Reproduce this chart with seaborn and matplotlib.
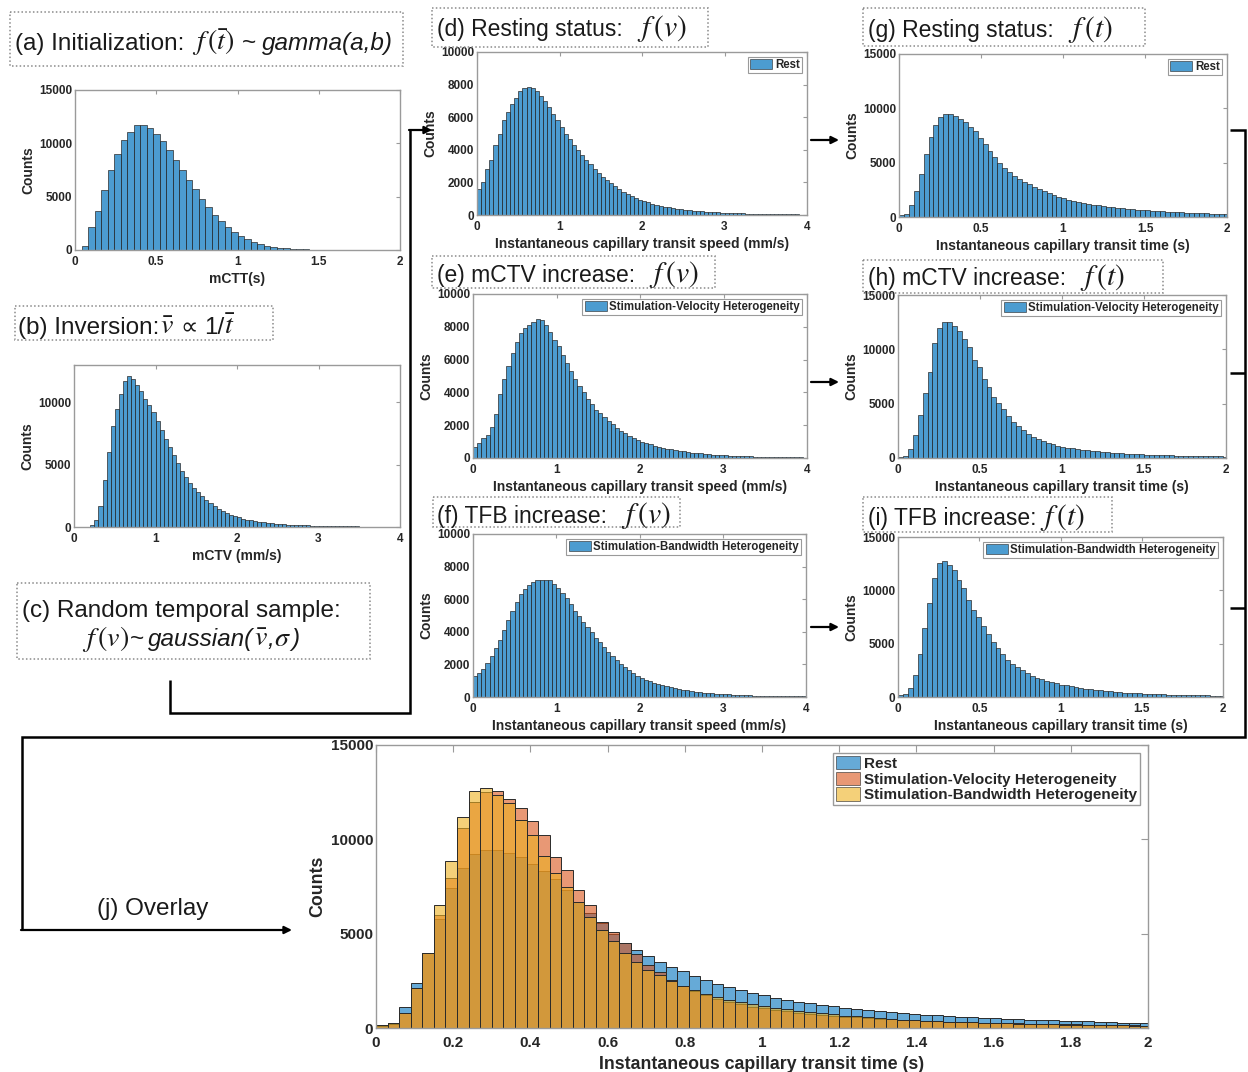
import numpy as np
import pandas as pd
import matplotlib
matplotlib.use("Agg")
import matplotlib.pyplot as plt
import seaborn as sns
from matplotlib.patches import Rectangle, Patch

# ---------------- data (bin counts) ----------------
mctt_width = 0.04
mctt_counts = [30, 350, 2200, 3700, 5600, 7500, 9000, 10300, 11100, 11700,
               11700, 11400, 10900, 10200, 9400, 8400, 7500, 6600, 5700, 4800,
               4000, 3300, 2700, 2200, 1700, 1300, 1000, 750, 560, 410,
               300, 210, 150, 105, 75, 50, 35, 25, 18, 12,
               9, 6, 4, 3, 2, 2, 1, 1, 1, 0]

mctv_width = 0.05
mctv_counts = [5, 10, 20, 40, 150, 600, 1700, 3800, 6000, 8100,
               9500, 10700, 11700, 12150, 11900, 11400, 10900, 10300, 9800, 9200,
               8500, 7800, 7100, 6400, 5800, 5100, 4500, 4000, 3550, 3150,
               2800, 2450, 2150, 1900, 1650, 1450, 1270, 1120, 990, 870,
               770, 680, 600, 530, 470, 420, 375, 335, 300, 270,
               245, 220, 200, 180, 165, 150, 137, 125, 114, 104,
               95, 87, 80, 73, 67, 61, 56, 51, 47, 43,
               39, 36, 33, 30, 27, 25, 23, 21, 19, 17]

speed_width = 0.05
speed_rest = [1600, 2000, 2800, 3400, 4300, 5000, 5800, 6300, 6800, 7200,
              7600, 7800, 7850, 7800, 7600, 7300, 7000, 6600, 6200, 5800,
              5400, 5000, 4650, 4300, 4000, 3700, 3400, 3100, 2850, 2600,
              2350, 2150, 1950, 1750, 1580, 1420, 1280, 1150, 1030, 920,
              850, 770, 700, 635, 575, 520, 470, 430, 390, 355,
              325, 295, 270, 245, 225, 205, 188, 172, 158, 145,
              133, 122, 112, 103, 95, 87, 80, 74, 68, 62,
              57, 52, 48, 44, 40, 37, 34, 31, 28, 26]
speed_velocity = [700, 900, 1200, 1400, 1900, 2700, 3900, 4800, 5600, 6400,
                  7100, 7600, 7900, 8100, 8300, 8450, 8400, 8100, 7700, 7200,
                  6800, 6300, 5800, 5300, 4800, 4400, 4000, 3600, 3300, 2950,
                  2750, 2500, 2250, 2050, 1850, 1650, 1500, 1350, 1220, 1100,
                  1000, 910, 830, 755, 690, 630, 575, 525, 480, 440,
                  400, 365, 335, 305, 280, 255, 233, 213, 195, 178,
                  163, 149, 136, 124, 113, 103, 94, 86, 79, 72,
                  66, 60, 55, 50, 46, 42, 38, 35, 32, 29]
speed_bandwidth = [1300, 1450, 1700, 2100, 2500, 3000, 3500, 4100, 4700, 5300,
                   5800, 6300, 6600, 6850, 7050, 7150, 7200, 7200, 7150, 6950,
                   6700, 6400, 6050, 5700, 5300, 4950, 4600, 4300, 4000, 3650,
                   3350, 3050, 2750, 2500, 2250, 2050, 1850, 1650, 1470, 1310,
                   1170, 1060, 960, 870, 790, 715, 650, 590, 535, 485,
                   440, 400, 365, 332, 302, 275, 250, 228, 208, 190,
                   173, 158, 144, 131, 120, 109, 100, 91, 83, 76,
                   69, 63, 58, 53, 48, 44, 40, 37, 34, 31]

time_width = 0.03
time_rest = [150, 250, 1100, 2400, 4000, 5800, 7400, 8500, 9200, 9450,
             9450, 9300, 9050, 8700, 8300, 7900, 7300, 6700, 6100, 5550,
             5000, 4500, 4150, 3800, 3500, 3250, 3000, 2750, 2550, 2350,
             2180, 2020, 1870, 1730, 1600, 1500, 1400, 1310, 1230, 1150,
             1080, 1010, 950, 890, 840, 790, 745, 700, 665, 630,
             600, 570, 545, 520, 495, 470, 450, 430, 410, 390,
             370, 350, 330, 310, 290, 270, 250]
time_velocity = [120, 220, 800, 2100, 4000, 6000, 7950, 10600, 12000, 12530,
                 12560, 12140, 11650, 10980, 10230, 9050, 8350, 7300, 6500, 5600,
                 5100, 4500, 3900, 3350, 2950, 2550, 2250, 1950, 1750, 1550,
                 1400, 1250, 1120, 1050, 960, 880, 810, 750, 695, 645,
                 600, 560, 520, 485, 455, 425, 400, 375, 355, 335,
                 315, 300, 285, 270, 255, 242, 230, 218, 207, 196,
                 186, 176, 166, 157, 148, 140, 132]
time_bandwidth = [150, 250, 800, 2100, 4000, 6500, 8850, 11200, 12560, 12740,
                  12350, 11900, 11000, 10230, 9100, 8200, 7500, 6700, 5900, 5200,
                  4600, 4000, 3500, 3100, 2800, 2500, 2250, 2000, 1800, 1650,
                  1500, 1380, 1270, 1170, 1080, 990, 910, 840, 780, 720,
                  660, 610, 565, 525, 485, 450, 420, 390, 365, 340,
                  318, 298, 280, 262, 246, 231, 217, 204, 192, 181,
                  170, 160, 150, 141, 133, 125, 118]

series_labels = ["Rest", "Stimulation-Velocity Heterogeneity",
                 "Stimulation-Bandwidth Heterogeneity"]
xlabel_speed = "Instantaneous capillary transit speed (mm/s)"
xlabel_time = "Instantaneous capillary transit time (s)"

# ---------------- style ----------------
sns.set_style("white")
plt.rcParams["font.family"] = ["Liberation Sans", "DejaVu Sans"]
plt.rcParams["mathtext.fontset"] = "stix"

BLUE = (0.0, 0.447, 0.741)
RED = (0.85, 0.325, 0.098)
YEL = (0.929, 0.694, 0.125)
EDGE = "#2a2a2a"
SPINE = "#9a9a9a"

W, H = 1248, 1072
fig = plt.figure(figsize=(W / 100, H / 100), dpi=100)
fig.patch.set_facecolor("white")


def add_ax(l, t, r, b):
    return fig.add_axes([l / W, 1 - b / H, (r - l) / W, (b - t) / H])


def draw_hist(ax, width, counts, color, alpha, lw=0.5):
    counts = np.asarray(counts, dtype=float)
    edges = width * np.arange(len(counts) + 1)
    df = pd.DataFrame({"x": (edges[:-1] + edges[1:]) / 2, "w": counts})
    sns.histplot(data=df, x="x", weights="w", bins=list(edges), ax=ax,
                 color=color, alpha=alpha, edgecolor=EDGE, linewidth=lw,
                 stat="count")


def fmt(v):
    return f"{round(v, 2):g}"


def style(ax, xmax, xstep, ymax, ystep, xlabel, fs_tick=8.5, fs_lab=10,
          tlen=3, pad=4, lpad=3):
    xt = np.arange(0, xmax + 1e-9, xstep)
    yt = np.arange(0, ymax + 1e-9, ystep)
    ax.set_xlim(0, xmax)
    ax.set_ylim(0, ymax)
    ax.set_xticks(xt)
    ax.set_yticks(yt)
    ax.set_xticklabels([fmt(v) for v in xt], fontweight="bold", fontsize=fs_tick)
    ax.set_yticklabels([fmt(v) for v in yt], fontweight="bold", fontsize=fs_tick)
    ax.tick_params(direction="in", length=tlen, width=0.8, top=True, right=True,
                   color=SPINE)
    ax.tick_params(axis="x", pad=pad)
    ax.tick_params(axis="y", pad=2)
    for s in ax.spines.values():
        s.set_visible(True)
        s.set_color(SPINE)
        s.set_linewidth(1.0)
    ax.set_xlabel(xlabel, fontweight="bold", fontsize=fs_lab, labelpad=lpad)
    ax.set_ylabel("Counts", fontweight="bold", fontsize=fs_lab, labelpad=3)
    ax.grid(False)


def small_legend(ax, label, fs=8.3):
    h = [Patch(facecolor=BLUE, alpha=0.7, edgecolor=EDGE, linewidth=0.6)]
    leg = ax.legend(h, [label], loc="upper right",
                    prop={"weight": "bold", "size": fs},
                    handlelength=1.9, handleheight=1.0, handletextpad=0.25,
                    borderpad=0.2, borderaxespad=0.4, fancybox=False,
                    framealpha=1)
    leg.get_frame().set_edgecolor(SPINE)
    leg.get_frame().set_linewidth(0.8)


# (a)
ax_a = add_ax(75, 90, 400, 250)
draw_hist(ax_a, mctt_width, mctt_counts, BLUE, 0.7)
style(ax_a, 2, 0.5, 15000, 5000, "mCTT(s)")

# (b)
ax_b = add_ax(74, 365, 400, 527)
draw_hist(ax_b, mctv_width, mctv_counts, BLUE, 0.7)
style(ax_b, 4, 1, 13000, 5000, "mCTV (mm/s)")
ax_b.set_yticks([0, 5000, 10000])
ax_b.set_yticklabels(["0", "5000", "10000"], fontweight="bold", fontsize=8.5)

# speed panels
for rect, data, lab in [((477, 52, 807, 215), speed_rest, series_labels[0]),
                        ((473, 294, 807, 458), speed_velocity, series_labels[1]),
                        ((473, 534, 806, 697), speed_bandwidth, series_labels[2])]:
    ax = add_ax(*rect)
    draw_hist(ax, speed_width, data, BLUE, 0.7)
    style(ax, 4, 1, 10000, 2000, xlabel_speed)
    small_legend(ax, lab)

# time panels
for rect, data, lab in [((899, 54, 1227, 217), time_rest, series_labels[0]),
                        ((898, 295, 1226, 458), time_velocity, series_labels[1]),
                        ((898, 537, 1223, 697), time_bandwidth, series_labels[2])]:
    ax = add_ax(*rect)
    draw_hist(ax, time_width, data, BLUE, 0.7)
    style(ax, 2, 0.5, 15000, 5000, xlabel_time)
    small_legend(ax, lab)

# (j) overlay
ax_j = add_ax(376, 745, 1148, 1028)
for data, col in [(time_rest, BLUE), (time_velocity, RED), (time_bandwidth, YEL)]:
    draw_hist(ax_j, time_width, data, col, 0.6, lw=0.7)
style(ax_j, 2, 0.2, 15000, 5000, xlabel_time, fs_tick=11, fs_lab=12.8,
      tlen=5, pad=6, lpad=4)
handles = [Patch(facecolor=c, alpha=0.6, edgecolor=EDGE, linewidth=0.7)
           for c in (BLUE, RED, YEL)]
leg = ax_j.legend(handles, series_labels, loc="upper right",
                  prop={"weight": "bold", "size": 11},
                  handlelength=1.6, handleheight=1.0, handletextpad=0.25,
                  borderpad=0.2, labelspacing=0.05, borderaxespad=0.5,
                  fancybox=False, framealpha=1)
leg.get_frame().set_edgecolor(SPINE)

# ---------------- annotation layer ----------------
ov = fig.add_axes([0, 0, 1, 1])
ov.set_xlim(0, W)
ov.set_ylim(H, 0)
ov.axis("off")
renderer = fig.canvas.get_renderer()


def seg_text(x, y, segs, fs=17.5, mscale=1.15):
    for s in segs:
        if isinstance(s, (int, float)):
            x += s
            continue
        txt, kw = s if isinstance(s, tuple) else (s, {})
        size = fs * mscale if txt.startswith("$") else fs
        t = ov.text(x, y, txt, fontsize=size, va="baseline", ha="left",
                    color="#1a1a1a", **kw)
        bb = t.get_window_extent(renderer=renderer)
        x = bb.x1


IT = {"style": "italic"}
seg_text(15, 50, ["(a) Initialization:", 8, r"$f\,(\bar{t})$", 7, "~", 6,
                  ("gamma(a,b)", IT)])
seg_text(18, 334, ["(b) Inversion:", 1, r"$\bar{v}$", 6, "\u221d", 6, "1/",
                   r"$\bar{t}$"])
seg_text(22, 617, ["(c) Random temporal sample:"])
seg_text(82, 646, [r"$f\,(v)$", 1, "~", 4, ("gaussian(", IT), r"$\bar{v}$",
                   (",", IT), r"$\sigma$", (")", IT)])
for x, y, lab, gap, fv in [(437, 36, "(d) Resting status:", 14, r"$f\,(v)$"),
                           (437, 282, "(e) mCTV increase:", 14, r"$f\,(v)$"),
                           (437, 523, "(f) TFB increase:", 14, r"$f\,(v)$"),
                           (868, 37, "(g) Resting status:", 14, r"$f\,(t)$"),
                           (868, 285, "(h) mCTV increase:", 14, r"$f\,(t)$"),
                           (868, 525, "(i) TFB increase:", 3, r"$f\,(t)$")]:
    seg_text(x, y, [lab, gap, fv], fs=16.5, mscale=1.3)
seg_text(97, 915, ["(j) Overlay"])

# dotted title boxes
for (l, t, r, b) in [(10, 12, 403, 66), (15, 306, 273, 340), (17, 583, 370, 659),
                     (432, 8, 708, 47), (863, 8, 1145, 46), (432, 256, 715, 288),
                     (863, 260, 1163, 293), (433, 497, 680, 527),
                     (863, 497, 1112, 532)]:
    ov.add_patch(Rectangle((l, t), r - l, b - t, fill=False, edgecolor="#8a8a8a",
                           linestyle=(0, (1, 1.5)), linewidth=1.1))

# connector lines and arrows
LK = dict(color="black", lw=1.8, solid_capstyle="butt", solid_joinstyle="miter")
AP = dict(arrowstyle="-|>", color="black", lw=1.6, mutation_scale=11,
          shrinkA=0, shrinkB=0)
ov.plot([170, 170, 410, 410], [680, 713, 713, 130], **LK)
ov.annotate("", xy=(432, 130), xytext=(409, 130), arrowprops=AP)
for y in (140, 382, 627):
    ov.annotate("", xy=(839, y), xytext=(811, y), arrowprops=AP)
ov.plot([1230, 1245, 1245, 22, 22], [130, 130, 737, 737, 930], **LK)
for y in (373, 608):
    ov.plot([1230, 1245], [y, y], **LK)
ov.annotate("", xy=(292, 930), xytext=(21, 930), arrowprops=AP)

fig.savefig("out.png", dpi=100, facecolor="white")
